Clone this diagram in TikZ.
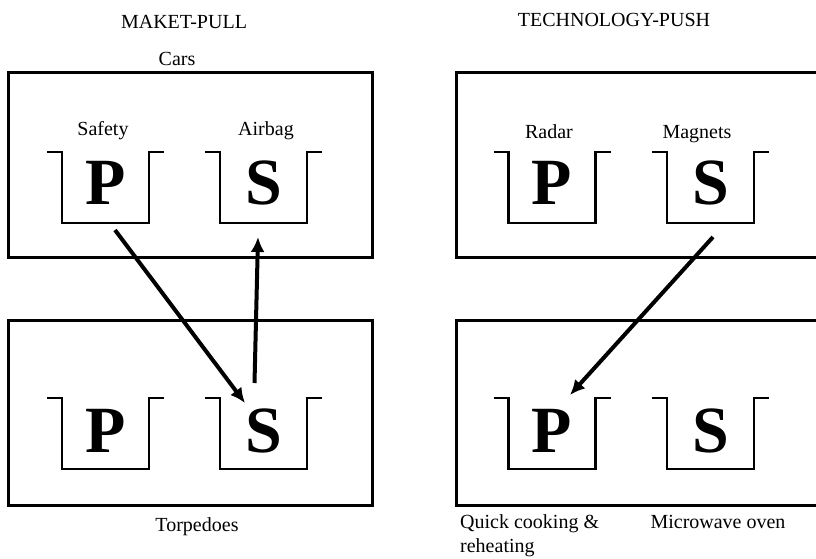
\documentclass[tikz,border=0pt]{standalone}
\usepackage{fontspec}
\setmainfont{Liberation Serif}
\usetikzlibrary{arrows.meta}

\begin{document}
\begin{tikzpicture}[x=1pt,y=-1pt,
  panel/.style={draw=black,line width=3pt,minimum width=364pt,minimum height=185pt,inner sep=0pt},
  trayline/.style={draw=black,line width=2.6pt,line join=miter},
  letter/.style={font=\fontsize{66}{70}\selectfont\bfseries,inner sep=0pt,anchor=base},
  label/.style={font=\fontsize{20}{24}\selectfont,inner sep=0pt,anchor=base},
  flow/.style={draw=black,line width=4pt,-{Latex[length=15pt,width=14pt]}},
  tray/.pic={\draw[trayline] (-58.5,0) -- (-43.5,0) -- (-43.5,71) -- (43.5,71) -- (43.5,0) -- (58.5,0);}
]
\useasboundingbox (0,0) rectangle (816,558);

% headings
\node[label] (hpull) at (184,28) {MAKET-PULL};
\node[label] (hpush) at (614,26) {TECHNOLOGY-PUSH};

% market-pull panels
\node[panel] (cars) at (190,165) {};
\node[panel] (torp) at (190,412.5) {};
\node[label] (lcars) at (177,65) {Cars};
\node[label] (ltorp) at (197,531) {Torpedoes};

% technology-push panels
\node[panel,minimum width=361pt] (radar) at (636.5,165) {};
\node[panel,minimum width=361pt] (micro) at (636.5,412.5) {};
\node[label,anchor=base west] (lquick) at (460,528) {Quick cooking \&};
\node[label,anchor=base west] (lreheat) at (460,552) {reheating};
\node[label] (lmicro) at (718,528) {Microwave oven};

% trays, upper row
\pic at (105.5,152) {tray};
\pic at (263.5,152) {tray};
\pic at (552,152) {tray};
\pic at (710.5,152) {tray};
% trays, lower row
\pic at (105.5,398) {tray};
\pic at (263.5,398) {tray};
\pic at (552,398) {tray};
\pic at (710.5,398) {tray};

% tray captions
\node[label] (lsafety) at (103,135) {Safety};
\node[label] (lairbag) at (266,135) {Airbag};
\node[label] (lradar) at (549,138) {Radar};
\node[label] (lmagnet) at (697,138) {Magnets};

% problem / solution letters
\node[letter] (p1) at (105.5,204) {P};
\node[letter] (s1) at (263.5,204) {S};
\node[letter] (p2) at (105.5,452) {P};
\node[letter] (s2) at (263.5,452) {S};
\node[letter] (p3) at (552,204) {P};
\node[letter] (s3) at (710.5,204) {S};
\node[letter] (p4) at (552,452) {P};
\node[letter] (s4) at (710.5,452) {S};

% arrow ends
\coordinate (safetyout) at (115,230);
\coordinate (torpin) at (245,403);
\coordinate (torpout) at (254.5,383);
\coordinate (airbagin) at (258,237);
\coordinate (magnetout) at (713,237);
\coordinate (quickin) at (570,395);

\draw[flow] (safetyout) -- (torpin);
\draw[flow] (torpout) -- (airbagin);
\draw[flow] (magnetout) -- (quickin);
\end{tikzpicture}
\end{document}
